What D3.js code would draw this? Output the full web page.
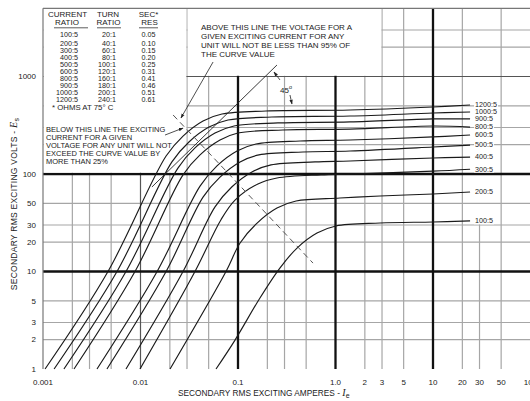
<!DOCTYPE html>
<html><head><meta charset="utf-8">
<script src="https://cdn.jsdelivr.net/npm/d3@7/dist/d3.min.js"></script>
<style>
html,body{margin:0;padding:0;background:#fff;}
svg{display:block;}
text{font-family:"Liberation Sans",Arial,Helvetica,sans-serif;fill:#222;}
</style></head><body>
<svg id="chart" width="530" height="401"></svg>
<script>
// ---------- data ----------
const ratioLabels = ["100:5","200:5","300:5","400:5","500:5","600:5","800:5","900:5","1000:5","1200:5"];
const turnRatios  = ["20:1","40:1","60:1","80:1","100:1","120:1","160:1","180:1","200:1","240:1"];
const secRes      = ["0.05","0.10","0.15","0.20","0.25","0.31","0.41","0.46","0.51","0.61"];

// excitation curves: [secondary exciting amperes, secondary exciting volts]
const curve100  = [[0.0595,1],[0.0932,1.98],[0.168,5.35],[0.27,10.9],[0.403,17.4],[0.646,24.8],[1.01,29.3],[2.86,31.4],[10,32.2],[24,33]];
const curve200  = [[0.0201,1],[0.0753,10],[0.105,19.6],[0.157,31.4],[0.251,44.8],[0.394,52.9],[1.11,56.7],[2.86,59.5],[10,62.4],[24,65.4]];
const curve300  = [[0.00988,1],[0.0362,10],[0.0669,34],[0.0932,54],[0.16,79],[0.251,91],[0.71,98],[1.41,100],[10,107],[24,112]];
const curve400  = [[0.0071,1],[0.0273,10],[0.0581,46],[0.0868,74],[0.139,105],[0.218,124],[0.616,133],[1.41,136],[10,146],[24,149]];
const curve500  = [[0.00453,1],[0.0183,10],[0.0438,58],[0.0654,93],[0.105,133],[0.164,157],[0.464,168],[1.41,172],[10,189],[24,198]];
const curve600  = [[0.00358,1],[0.0148,10],[0.0408,75],[0.0609,121],[0.0977,172],[0.153,203],[0.433,218],[1.41,223],[10,240],[24,251]];
const curve800  = [[0.00208,1],[0.00878,10],[0.0273,98],[0.0408,157],[0.0654,223],[0.0998,263],[0.289,283],[1.41,289],[10,311],[24,303]];
const curve900  = [[0.00164,1],[0.0071,10],[0.0242,115],[0.0362,185],[0.0581,263],[0.091,311],[0.257,334],[1.41,342],[10,367],[24,367]];
const curve1000 = [[0.0013,1],[0.00574,10],[0.021,133],[0.0314,213],[0.0504,303],[0.079,358],[0.223,384],[1.41,393],[10,422],[24,432]];
const curve1200 = [[0.00105,1],[0.00464,10],[0.0183,153],[0.0273,245],[0.0438,350],[0.0685,412],[0.194,443],[1.41,453],[10,487],[24,510]];
const curves = [curve100,curve200,curve300,curve400,curve500,curve600,curve800,curve900,curve1000,curve1200];

const kneeLine    = [[0.0216,403],[0.588,12.2]];
const tangentLine = [[0.0131,73.6],[0.251,1312]];

// axis ticks
const xTickVals   = [0.001,0.01,0.1,1,2,3,5,10,20,30,50,100];
const xTickLabels = ["0.001","0.01","0.1","1.0","2","3","5","10","20","30","50","100"];
const yTickVals   = [1,2,3,5,10,20,30,50,100,1000];
const yTickLabels = ["1","2","3","5","10","20","30","50","100","1000"];

// grid
const xMinor = [0.002,0.003,0.005,0.02,0.03,0.05,0.2,0.3,0.5,2,3,5,20,30,50];
const xMid   = [0.01];
const xMajor = [0.1,1,10];
const yMinor = [2,3,5,20,30,50,200,300,500,2000,3000];
const yMid   = [1000];
const yMajor = [10,100];

// ---------- scales ----------
const svg = d3.select("#chart");
const x = d3.scaleLog().domain([0.001,100]).range([43,530.5]);
const y = d3.scaleLog().domain([1,5000]).range([369,8.35]);
const X0 = x(0.001), X1 = 531, Y0 = y(1), Y1 = y(5000);

const grid = svg.append("g");
function vl(v, col, w, topV){
  grid.append("line").attr("x1",x(v)).attr("x2",x(v))
    .attr("y1", topV ? y(topV) : Y1).attr("y2",Y0)
    .attr("stroke",col).attr("stroke-width",w);
}
function hl(v, col, w){
  grid.append("line").attr("x1",X0).attr("x2",X1).attr("y1",y(v)).attr("y2",y(v))
    .attr("stroke",col).attr("stroke-width",w);
}
const minorCol = "#a6a6a6";
xMinor.forEach(v => vl(v, minorCol, 1.2, v===30 ? 31 : null));
yMinor.forEach(v => hl(v, minorCol, 1.2));
xMid.forEach(v => vl(v, "#555", 1.2));
yMid.forEach(v => hl(v, "#555", 1.2));
xMajor.forEach(v => vl(v, "#111", 2.3));
yMajor.forEach(v => hl(v, "#111", 2.3));

// white panels
svg.append("rect").attr("x",X0+0.5).attr("y",Y1+0.5)
  .attr("width", x(0.03)-0.7-(X0+0.5)).attr("height", y(100)-1.3-(Y1+0.5)).attr("fill","#fff");
svg.append("rect").attr("x",x(0.03)+0.7).attr("y",Y1+0.5)
  .attr("width", x(3)-0.7-(x(0.03)+0.7)).attr("height", y(1000)-0.7-(Y1+0.5)).attr("fill","#fff");

// frame
svg.append("line").attr("x1",X0).attr("x2",X0).attr("y1",Y1).attr("y2",Y0).attr("stroke","#777").attr("stroke-width",1.2);
svg.append("line").attr("x1",X0).attr("x2",X1).attr("y1",Y1).attr("y2",Y1).attr("stroke","#777").attr("stroke-width",1.2);

// ---------- curves ----------
const line = d3.line().x(d=>x(d[0])).y(d=>y(d[1])).curve(d3.curveCatmullRom.alpha(0.5));
curves.forEach(c => {
  svg.append("path").attr("d", line(c)).attr("fill","none").attr("stroke","#1a1a1a").attr("stroke-width",1.15);
});

svg.append("path").attr("d", d3.line().x(d=>x(d[0])).y(d=>y(d[1]))(kneeLine))
  .attr("fill","none").attr("stroke","#555").attr("stroke-width",1).attr("stroke-dasharray","6,4");
svg.append("path").attr("d", d3.line().x(d=>x(d[0])).y(d=>y(d[1]))(tangentLine))
  .attr("fill","none").attr("stroke","#222").attr("stroke-width",0.9);

// curve labels
curves.forEach((c,i) => {
  const last = c[c.length-1];
  const tx = x(last[0]) + 5, ty = y(last[1]);
  const t = svg.append("text").attr("x",tx).attr("y",ty).attr("dy","0.33em")
    .attr("font-size","7.2px").attr("fill","#333").text(ratioLabels[i]);
  const bb = t.node().getBBox();
  svg.insert("rect", "text").attr("x",bb.x-1).attr("y",bb.y+1).attr("width",bb.width+2).attr("height",bb.height-2).attr("fill","#fff");
});

// ---------- arrows ----------
const defs = svg.append("defs");
defs.append("marker").attr("id","ah").attr("viewBox","0 0 10 10").attr("refX",9).attr("refY",5)
  .attr("markerWidth",6).attr("markerHeight",6).attr("orient","auto")
  .append("path").attr("d","M0,1.5 L10,5 L0,8.5 Z").attr("fill","#222");
function arrow(a,b){
  svg.append("line").attr("x1",x(a[0])).attr("y1",y(a[1])).attr("x2",x(b[0])).attr("y2",y(b[1]))
    .attr("stroke","#222").attr("stroke-width",0.8).attr("marker-end","url(#ah)");
}
arrow([0.0555,1408],[0.026,375]);
arrow([0.01784,251],[0.0273,296]);
arrow([0.2696,921],[0.2338,1112]);
arrow([0.3414,646],[0.3578,522]);

// ---------- texts ----------
function txt(s,xx,yy,opt={}){
  return svg.append("text").attr("x",xx).attr("y",yy).attr("font-size",opt.fs||"7.6px")
    .attr("text-anchor",opt.anchor||"start").attr("fill",opt.fill||"#222").text(s);
}
// table header
txt("CURRENT",67.5,17,{anchor:"middle",fs:"8px"});
txt("RATIO",67,25,{anchor:"middle",fs:"8px"});
txt("TURN",108,17,{anchor:"middle",fs:"8px"});
txt("RATIO",108.5,25,{anchor:"middle",fs:"8px"});
txt("SEC*",148.5,17,{anchor:"middle",fs:"8px"});
txt("RES",149.5,25,{anchor:"middle",fs:"8px"});
[[54,88],[97,121],[139,158]].forEach(u => svg.append("line").attr("x1",u[0]).attr("x2",u[1]).attr("y1",27.8).attr("y2",27.8).attr("stroke","#333").attr("stroke-width",0.8));
ratioLabels.forEach((r,i) => {
  const by = i===0 ? 37 : 45.5 + (i-1)*7;
  txt(r,78,by,{anchor:"end",fs:"7.2px"});
  txt(turnRatios[i],116,by,{anchor:"end",fs:"7.2px"});
  txt(secRes[i],148.5,by,{anchor:"middle",fs:"7.2px"});
});
txt("* OHMS AT 75\u00B0 C",52,109.5,{fs:"7.8px"});

// notes
["ABOVE THIS LINE THE VOLTAGE FOR A","GIVEN EXCITING CURRENT FOR ANY","UNIT WILL NOT BE LESS THAN 95% OF","THE CURVE VALUE"]
  .forEach((s,i) => txt(s,201,29.5+i*9,{fs:"8px"}));
["BELOW THIS LINE THE EXCITING","CURRENT FOR A GIVEN","VOLTAGE FOR ANY UNIT WILL NOT","EXCEED THE CURVE VALUE BY","MORE THAN 25%"]
  .forEach((s,i) => txt(s,46,132+i*8,{fs:"7.5px"}));
const t45 = svg.append("text").attr("x",280).attr("y",92.5).attr("font-size","8px").attr("fill","#222");
t45.append("tspan").text("45");
t45.append("tspan").attr("dy","-3.5").attr("font-size","5.5px").text("o");

// tick labels
yTickVals.forEach((v,i) => txt(yTickLabels[i],36,y(v)+2.8,{anchor:"end",fs:"8px",fill:"#444"}));
xTickVals.forEach((v,i) => txt(xTickLabels[i],x(v),385,{anchor:"middle",fs:"8px",fill:"#444"}));

// axis titles
const xt = svg.append("text").attr("x",178).attr("y",396).attr("font-size","8.3px").attr("fill","#333");
xt.append("tspan").text("SECONDARY RMS EXCITING AMPERES - ");
xt.append("tspan").attr("font-style","italic").attr("font-family","Liberation Serif, serif").attr("font-size","10px").text("I");
xt.append("tspan").attr("dy","2").attr("font-size","7px").text("e");

const yt = svg.append("text").attr("transform","translate(17,204) rotate(-90)").attr("text-anchor","middle")
  .attr("font-size","8.5px").attr("letter-spacing","0.25px").attr("fill","#333");
yt.append("tspan").text("SECONDARY RMS EXCITING VOLTS - ");
yt.append("tspan").attr("font-style","italic").attr("font-family","Liberation Serif, serif").attr("font-size","10px").text("E");
yt.append("tspan").attr("dy","2").attr("font-size","7px").text("s");
</script>
</body></html>
